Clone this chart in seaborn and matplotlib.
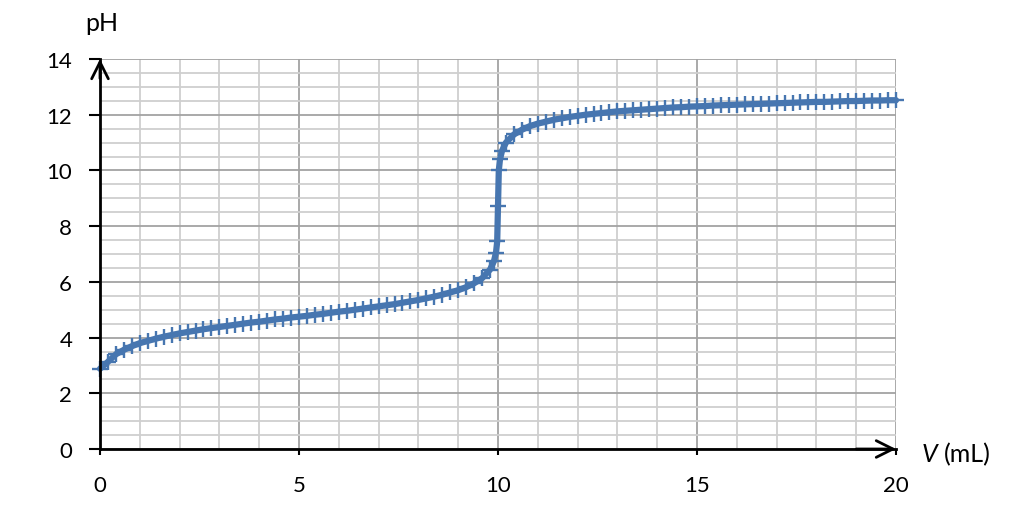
import matplotlib
matplotlib.use("Agg")
import matplotlib.pyplot as plt
import seaborn as sns
import pandas as pd
from matplotlib.ticker import MultipleLocator

# Volume of titrant added (mL)
volume = [0.0, 0.2, 0.4, 0.6, 0.8, 1.0, 1.2, 1.4, 1.6, 1.8, 2.0, 2.2, 2.4, 2.6, 2.8,
          3.0, 3.2, 3.4, 3.6, 3.8, 4.0, 4.2, 4.4, 4.6, 4.8, 5.0, 5.2, 5.4, 5.6, 5.8,
          6.0, 6.2, 6.4, 6.6, 6.8, 7.0, 7.2, 7.4, 7.6, 7.8, 8.0, 8.2, 8.4, 8.6, 8.8,
          9.0, 9.2, 9.4, 9.6, 9.8, 9.9, 9.95, 9.98, 10.0, 10.02, 10.05, 10.1,
          10.2, 10.4, 10.6, 10.8, 11.0, 11.2, 11.4, 11.6, 11.8, 12.0, 12.2, 12.4,
          12.6, 12.8, 13.0, 13.2, 13.4, 13.6, 13.8, 14.0, 14.2, 14.4, 14.6, 14.8,
          15.0, 15.2, 15.4, 15.6, 15.8, 16.0, 16.2, 16.4, 16.6, 16.8, 17.0, 17.2,
          17.4, 17.6, 17.8, 18.0, 18.2, 18.4, 18.6, 18.8, 19.0, 19.2, 19.4, 19.6,
          19.8, 20.0]
# Measured pH
ph = [2.88, 3.13, 3.40, 3.56, 3.69, 3.80, 3.88, 3.96, 4.03, 4.09, 4.15, 4.20, 4.25, 4.30, 4.34,
      4.38, 4.42, 4.46, 4.50, 4.54, 4.57, 4.61, 4.65, 4.68, 4.72, 4.75, 4.78, 4.82, 4.85, 4.89,
      4.93, 4.96, 5.00, 5.04, 5.08, 5.12, 5.16, 5.20, 5.25, 5.30, 5.35, 5.41, 5.47, 5.54, 5.62,
      5.70, 5.81, 5.95, 6.13, 6.44, 6.75, 7.05, 7.45, 8.72, 10.00, 10.40, 10.70,
      11.00, 11.29, 11.46, 11.59, 11.68, 11.75, 11.82, 11.87, 11.92, 11.96, 12.00, 12.03,
      12.06, 12.09, 12.12, 12.14, 12.16, 12.18, 12.20, 12.22, 12.24, 12.26, 12.27, 12.29,
      12.30, 12.31, 12.33, 12.34, 12.35, 12.36, 12.37, 12.38, 12.39, 12.40, 12.41, 12.42,
      12.43, 12.44, 12.45, 12.46, 12.46, 12.47, 12.48, 12.49, 12.49, 12.50, 12.51, 12.51,
      12.52, 12.52]

x_ticks = [0, 5, 10, 15, 20]
y_ticks = [0, 2, 4, 6, 8, 10, 12, 14]

sns.set_theme(style="white")
plt.rcParams['font.family'] = ['Lato', 'DejaVu Sans']
plt.rcParams['text.color'] = 'black'
plt.rcParams['xtick.color'] = 'black'
plt.rcParams['ytick.color'] = 'black'

fig = plt.figure(figsize=(10.24, 5.06), dpi=100)
ax = fig.add_axes([100/1024, 1-450/506, 796/1024, 390/506])

df = pd.DataFrame({"V": volume, "pH": ph})
color = "#4776b0"
sns.lineplot(data=df, x="V", y="pH", ax=ax, color=color, linewidth=4.5,
             sort=False, zorder=5, clip_on=False)
sns.scatterplot(data=df, x="V", y="pH", ax=ax, color=color, marker="+",
                s=130, linewidth=1.7, zorder=5, clip_on=False)

ax.set_xlim(0, 20)
ax.set_ylim(0, 14)
ax.xaxis.set_minor_locator(MultipleLocator(1))
ax.yaxis.set_minor_locator(MultipleLocator(0.5))
ax.set_xticks(x_ticks)
ax.set_yticks(y_ticks)
ax.set_xticklabels([str(t) for t in x_ticks])
ax.set_yticklabels([str(t) for t in y_ticks])

ax.grid(which="minor", color="#cfcfcf", linewidth=1.3)
ax.grid(which="major", color="#a3a3a3", linewidth=1.3)
ax.set_axisbelow(True)

for s in ["top", "right"]:
    ax.spines[s].set_visible(False)
for s in ["left", "bottom"]:
    ax.spines[s].set_color("black")
    ax.spines[s].set_linewidth(2)
    ax.spines[s].set_zorder(6)

ax.tick_params(axis="y", which="major", direction="out", length=8, width=1.5,
               color="black", labelcolor="black", labelsize=16, pad=12, left=True)
ax.tick_params(axis="x", which="major", direction="out", length=4, width=1.5,
               color="black", labelcolor="black", labelsize=16, pad=15, bottom=True)
ax.tick_params(which="minor", length=0)
ax.set_xlabel("")
ax.set_ylabel("")

# axis arrows
ax.annotate("", xy=(1.0, 0), xytext=(0.95, 0), xycoords="axes fraction",
            arrowprops=dict(arrowstyle="->", lw=2, color="black", mutation_scale=30,
                            shrinkA=0, shrinkB=0), zorder=7)
ax.annotate("", xy=(0, 1.0), xytext=(0, 0.95), xycoords="axes fraction",
            arrowprops=dict(arrowstyle="->", lw=2, color="black", mutation_scale=30,
                            shrinkA=0, shrinkB=0), zorder=7)

fig.text(85/1024, 1-24/506, "pH", fontsize=18, va="center", ha="left", color="black")
fig.text(922/1024, 1-455/506, "V", fontsize=18, style="italic", va="center", ha="left",
         color="black")
fig.text(944/1024, 1-455/506, "(mL)", fontsize=18, va="center", ha="left", color="black")

fig.savefig("out.png", dpi=100)
